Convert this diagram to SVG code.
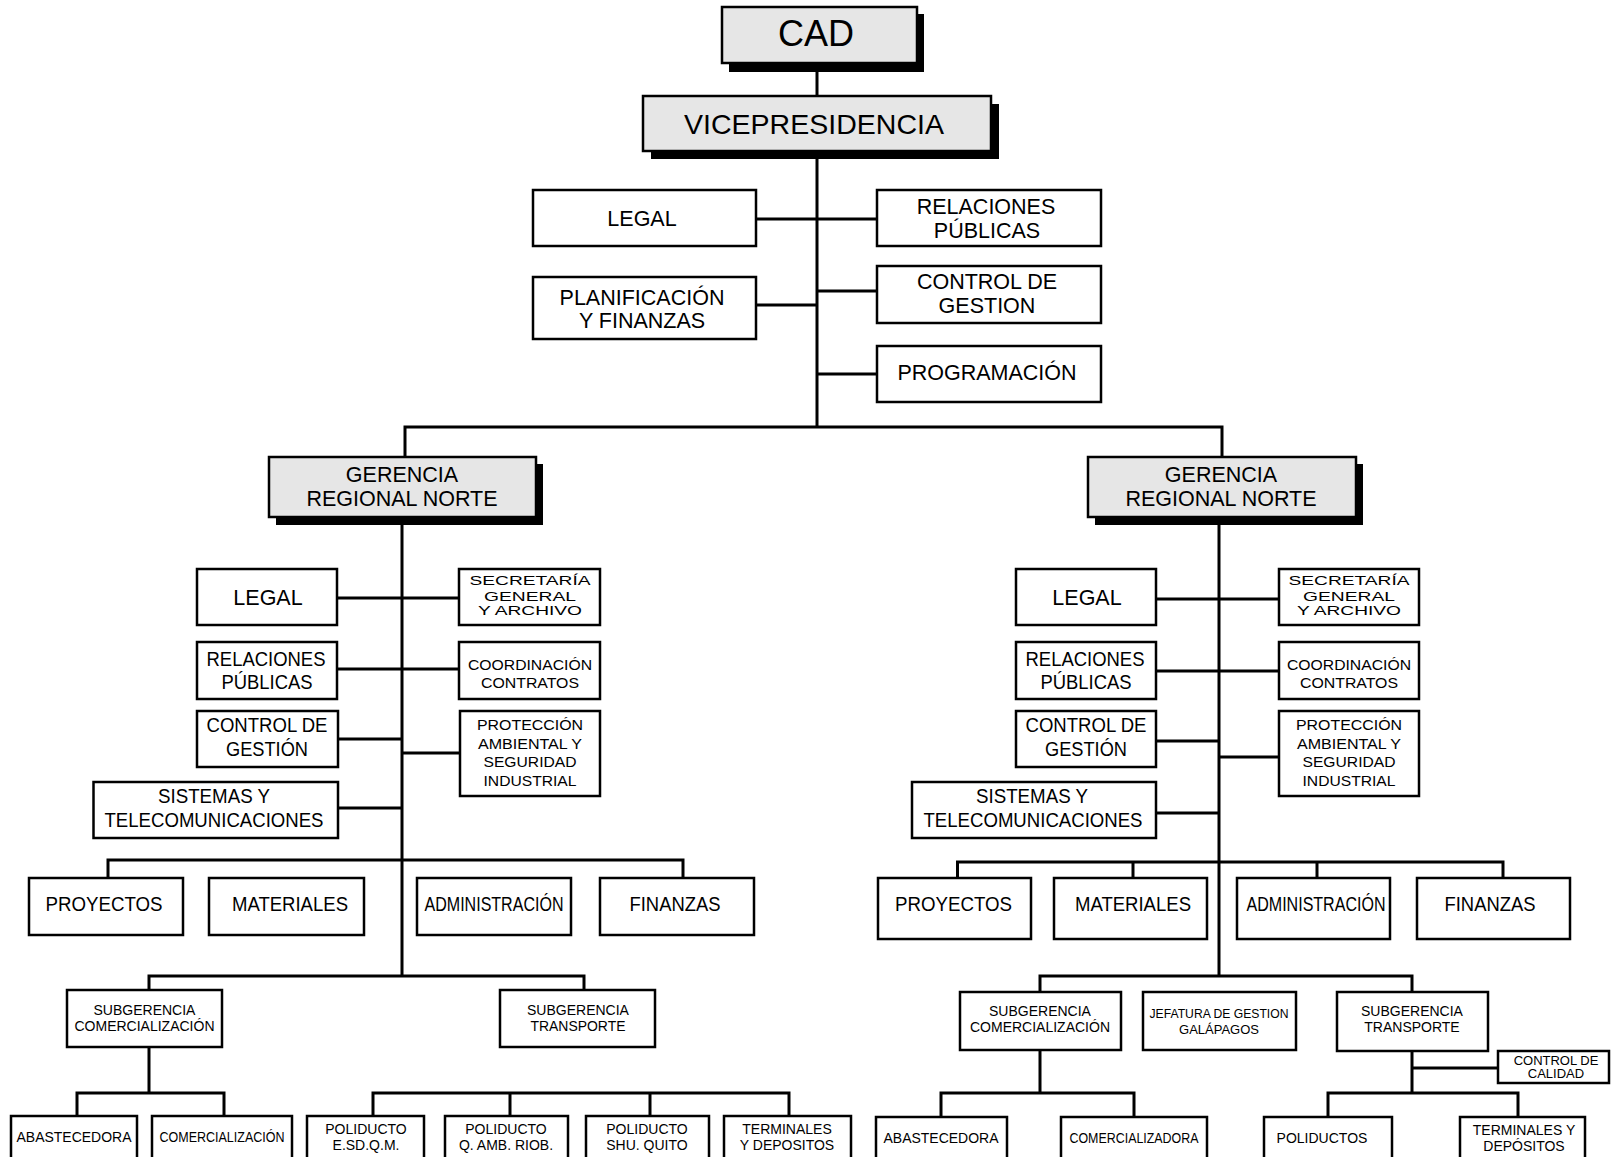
<svg xmlns="http://www.w3.org/2000/svg" width="1611" height="1157" viewBox="0 0 1611 1157">
<style>
.box{fill:#fff;stroke:#000;stroke-width:2.5}
.gbox{fill:#e6e6e6;stroke:#000;stroke-width:2.5}
.sh{fill:#000}
.ln{stroke:#000;stroke-width:3;fill:none}
text{font-family:"Liberation Sans",Arial,Helvetica,sans-serif;text-anchor:middle;fill:#000}
.f36{font-size:36px}
.f28{font-size:28px}
.f21{font-size:21.5px}
.f20{font-size:20px}
.f16{font-size:15.5px}
.f14{font-size:14px}
.f13{font-size:13px}
</style>
<rect width="1611" height="1157" fill="#fff"/>
<g id="connectors" class="ln">
<path d="M817,63V96M817,151V427M756,219H877M756,305H817M817,291H877M817,374H877M405,457V427H1222V457"/>
<path d="M402,517V976M337,598H459M337,669H459M338,739H402M402,753H460M338,808H402M108,878V860H683V878M149,990V976H584V990M149,1047V1093M77,1116V1093H224V1116M373,1116V1093H789V1116M510,1093V1116M650,1093V1116"/>
<path d="M1219,517V976M1156,599H1279M1156,671H1279M1156,741H1219M1219,757H1279M1156,813H1219M957.5,878V862H1503V878M1133,862V878M1317,862V878M1040,992V976H1412V992M1040,1050V1093M941,1117V1093H1134V1117M1412,1051V1093M1412,1068H1498M1328,1117V1093H1518V1117"/>
</g>
<g id="cad"><rect class="sh" x="729" y="14" width="195" height="58"/><rect class="gbox" x="722" y="7" width="195" height="56"/><text class="f36" x="816" y="46">CAD</text></g>
<g id="vicepresidencia"><rect class="sh" x="651" y="104" width="348" height="55"/><rect class="gbox" x="643" y="96" width="348" height="55"/><text class="f28" x="814" y="134" textLength="260" lengthAdjust="spacingAndGlyphs">VICEPRESIDENCIA</text></g>
<g id="legal"><rect class="box" x="533" y="190" width="223" height="56"/><text class="f21" x="642" y="225.5">LEGAL</text></g>
<g id="relaciones"><rect class="box" x="877" y="190" width="224" height="56"/><text class="f21" x="986" y="214">RELACIONES</text><text class="f21" x="987" y="237.5">PÚBLICAS</text></g>
<g id="planificacion"><rect class="box" x="533" y="277" width="223" height="62"/><text class="f21" x="642" y="304.5">PLANIFICACIÓN</text><text class="f21" x="642" y="328">Y FINANZAS</text></g>
<g id="control"><rect class="box" x="877" y="266" width="224" height="57"/><text class="f21" x="987" y="289">CONTROL DE</text><text class="f21" x="987" y="312.5">GESTION</text></g>
<g id="programacion"><rect class="box" x="877" y="346" width="224" height="56"/><text class="f21" x="987" y="379.5">PROGRAMACIÓN</text></g>

<g id="gerencia-1"><rect class="sh" x="276" y="464" width="267" height="61"/><rect class="gbox" x="269" y="457" width="267" height="60"/><text class="f21" x="402" y="482">GERENCIA</text><text class="f21" x="402" y="506">REGIONAL NORTE</text></g>
<g id="l-legal"><rect class="box" x="197" y="569" width="140" height="56"/><text class="f21" x="268" y="605">LEGAL</text></g>
<g id="l-secretaria"><rect class="box" x="459" y="569" width="141" height="56"/><text class="f13" x="530" y="585" textLength="121" lengthAdjust="spacingAndGlyphs">SECRETARÍA</text><text class="f13" x="530" y="600.5" textLength="92" lengthAdjust="spacingAndGlyphs">GENERAL</text><text class="f13" x="530" y="615" textLength="104" lengthAdjust="spacingAndGlyphs">Y ARCHIVO</text></g>
<g id="l-relaciones"><rect class="box" x="197" y="642" width="140" height="57"/><text class="f20" x="266" y="665.5" textLength="119" lengthAdjust="spacingAndGlyphs">RELACIONES</text><text class="f20" x="267" y="689" textLength="91" lengthAdjust="spacingAndGlyphs">PÚBLICAS</text></g>
<g id="l-coordinacion"><rect class="box" x="459" y="642" width="141" height="57"/><text class="f16" x="530" y="669.5" textLength="124" lengthAdjust="spacingAndGlyphs">COORDINACIÓN</text><text class="f16" x="530" y="688" textLength="98" lengthAdjust="spacingAndGlyphs">CONTRATOS</text></g>
<g id="l-control"><rect class="box" x="197" y="711" width="141" height="56"/><text class="f20" x="267" y="732" textLength="121" lengthAdjust="spacingAndGlyphs">CONTROL DE</text><text class="f20" x="267" y="756" textLength="82" lengthAdjust="spacingAndGlyphs">GESTIÓN</text></g>
<g id="l-proteccion"><rect class="box" x="460" y="711" width="140" height="85"/><text class="f16" x="530" y="730" textLength="106" lengthAdjust="spacingAndGlyphs">PROTECCIÓN</text><text class="f16" x="530" y="748.5" textLength="104" lengthAdjust="spacingAndGlyphs">AMBIENTAL Y</text><text class="f16" x="530" y="767" textLength="93" lengthAdjust="spacingAndGlyphs">SEGURIDAD</text><text class="f16" x="530" y="785.5" textLength="93" lengthAdjust="spacingAndGlyphs">INDUSTRIAL</text></g>
<g id="l-sistemas"><rect class="box" x="93.5" y="782" width="244.5" height="56"/><text class="f20" x="214" y="803" textLength="112" lengthAdjust="spacingAndGlyphs">SISTEMAS Y</text><text class="f20" x="214" y="827" textLength="219" lengthAdjust="spacingAndGlyphs">TELECOMUNICACIONES</text></g>
<g id="l-proyectos"><rect class="box" x="29" y="878" width="154" height="57"/><text class="f20" x="104" y="911" textLength="117" lengthAdjust="spacingAndGlyphs">PROYECTOS</text></g>
<g id="l-materiales"><rect class="box" x="209" y="878" width="155" height="57"/><text class="f20" x="290" y="911" textLength="116" lengthAdjust="spacingAndGlyphs">MATERIALES</text></g>
<g id="l-administracion"><rect class="box" x="417" y="878" width="154" height="57"/><text class="f20" x="494" y="911" textLength="139" lengthAdjust="spacingAndGlyphs">ADMINISTRACIÓN</text></g>
<g id="l-finanzas"><rect class="box" x="600" y="878" width="154" height="57"/><text class="f20" x="675" y="911" textLength="91" lengthAdjust="spacingAndGlyphs">FINANZAS</text></g>
<g id="l-subg-comercializacion"><rect class="box" x="67" y="990" width="155" height="57"/><text class="f14" x="144.5" y="1015">SUBGERENCIA</text><text class="f14" x="144.5" y="1031" textLength="140" lengthAdjust="spacingAndGlyphs">COMERCIALIZACIÓN</text></g>
<g id="l-subg-transporte"><rect class="box" x="500" y="990" width="155" height="57"/><text class="f14" x="578" y="1015">SUBGERENCIA</text><text class="f14" x="578" y="1031" textLength="95" lengthAdjust="spacingAndGlyphs">TRANSPORTE</text></g>
<g id="l-abastecedora"><rect class="box" x="11" y="1116" width="126" height="43"/><text class="f14" x="74" y="1142" textLength="115" lengthAdjust="spacingAndGlyphs">ABASTECEDORA</text></g>
<g id="l-comercializacion"><rect class="box" x="152" y="1116" width="140" height="43"/><text class="f14" x="222" y="1142" textLength="125" lengthAdjust="spacingAndGlyphs">COMERCIALIZACIÓN</text></g>
<g id="l-poliducto-1"><rect class="box" x="307" y="1116" width="117" height="43"/><text class="f14" x="366" y="1134">POLIDUCTO</text><text class="f14" x="366" y="1149.5">E.SD.Q.M.</text></g>
<g id="l-poliducto-2"><rect class="box" x="445" y="1116" width="123" height="43"/><text class="f14" x="506" y="1134">POLIDUCTO</text><text class="f14" x="506" y="1149.5">Q. AMB. RIOB.</text></g>
<g id="l-poliducto-3"><rect class="box" x="586" y="1116" width="123" height="43"/><text class="f14" x="647" y="1134">POLIDUCTO</text><text class="f14" x="647" y="1149.5">SHU. QUITO</text></g>
<g id="l-terminales"><rect class="box" x="724" y="1116" width="127" height="43"/><text class="f14" x="787" y="1134">TERMINALES</text><text class="f14" x="787" y="1149.5">Y DEPOSITOS</text></g>

<g id="gerencia-2"><rect class="sh" x="1095" y="464" width="268" height="61"/><rect class="gbox" x="1088" y="457" width="268" height="60"/><text class="f21" x="1221" y="482">GERENCIA</text><text class="f21" x="1221" y="506">REGIONAL NORTE</text></g>
<g id="r-legal"><rect class="box" x="1016" y="569" width="140" height="56"/><text class="f21" x="1087" y="605">LEGAL</text></g>
<g id="r-secretaria"><rect class="box" x="1279" y="569" width="140" height="56"/><text class="f13" x="1349" y="585" textLength="121" lengthAdjust="spacingAndGlyphs">SECRETARÍA</text><text class="f13" x="1349" y="600.5" textLength="92" lengthAdjust="spacingAndGlyphs">GENERAL</text><text class="f13" x="1349" y="615" textLength="104" lengthAdjust="spacingAndGlyphs">Y ARCHIVO</text></g>
<g id="r-relaciones"><rect class="box" x="1016" y="642" width="140" height="57"/><text class="f20" x="1085" y="665.5" textLength="119" lengthAdjust="spacingAndGlyphs">RELACIONES</text><text class="f20" x="1086" y="689" textLength="91" lengthAdjust="spacingAndGlyphs">PÚBLICAS</text></g>
<g id="r-coordinacion"><rect class="box" x="1279" y="642" width="140" height="57"/><text class="f16" x="1349" y="669.5" textLength="124" lengthAdjust="spacingAndGlyphs">COORDINACIÓN</text><text class="f16" x="1349" y="688" textLength="98" lengthAdjust="spacingAndGlyphs">CONTRATOS</text></g>
<g id="r-control"><rect class="box" x="1016" y="711" width="140" height="56"/><text class="f20" x="1086" y="732" textLength="121" lengthAdjust="spacingAndGlyphs">CONTROL DE</text><text class="f20" x="1086" y="756" textLength="82" lengthAdjust="spacingAndGlyphs">GESTIÓN</text></g>
<g id="r-proteccion"><rect class="box" x="1279" y="711" width="140" height="85"/><text class="f16" x="1349" y="730" textLength="106" lengthAdjust="spacingAndGlyphs">PROTECCIÓN</text><text class="f16" x="1349" y="748.5" textLength="104" lengthAdjust="spacingAndGlyphs">AMBIENTAL Y</text><text class="f16" x="1349" y="767" textLength="93" lengthAdjust="spacingAndGlyphs">SEGURIDAD</text><text class="f16" x="1349" y="785.5" textLength="93" lengthAdjust="spacingAndGlyphs">INDUSTRIAL</text></g>
<g id="r-sistemas"><rect class="box" x="912" y="782" width="244" height="56"/><text class="f20" x="1032" y="803" textLength="112" lengthAdjust="spacingAndGlyphs">SISTEMAS Y</text><text class="f20" x="1033" y="827" textLength="219" lengthAdjust="spacingAndGlyphs">TELECOMUNICACIONES</text></g>
<g id="r-proyectos"><rect class="box" x="878" y="878" width="153" height="61"/><text class="f20" x="953.5" y="911" textLength="117" lengthAdjust="spacingAndGlyphs">PROYECTOS</text></g>
<g id="r-materiales"><rect class="box" x="1054" y="878" width="153" height="61"/><text class="f20" x="1133" y="911" textLength="116" lengthAdjust="spacingAndGlyphs">MATERIALES</text></g>
<g id="r-administracion"><rect class="box" x="1237" y="878" width="153" height="61"/><text class="f20" x="1316" y="911" textLength="139" lengthAdjust="spacingAndGlyphs">ADMINISTRACIÓN</text></g>
<g id="r-finanzas"><rect class="box" x="1417" y="878" width="153" height="61"/><text class="f20" x="1490" y="911" textLength="91" lengthAdjust="spacingAndGlyphs">FINANZAS</text></g>
<g id="r-subg-comercializacion"><rect class="box" x="960" y="992" width="161" height="58"/><text class="f14" x="1040" y="1016">SUBGERENCIA</text><text class="f14" x="1040" y="1031.5" textLength="140" lengthAdjust="spacingAndGlyphs">COMERCIALIZACIÓN</text></g>
<g id="r-jefatura"><rect class="box" x="1143" y="992" width="153" height="58"/><text class="f13" x="1219" y="1018" textLength="139" lengthAdjust="spacingAndGlyphs">JEFATURA DE GESTION</text><text class="f13" x="1219" y="1033.5">GALÁPAGOS</text></g>
<g id="r-subg-transporte"><rect class="box" x="1337" y="992" width="151" height="59"/><text class="f14" x="1412" y="1016">SUBGERENCIA</text><text class="f14" x="1412" y="1031.5">TRANSPORTE</text></g>
<g id="r-control-calidad"><rect class="box" x="1498" y="1051" width="111" height="32"/><text class="f13" x="1556" y="1065">CONTROL DE</text><text class="f13" x="1556" y="1078">CALIDAD</text></g>
<g id="r-abastecedora"><rect class="box" x="876" y="1117" width="131" height="42"/><text class="f14" x="941" y="1143" textLength="115" lengthAdjust="spacingAndGlyphs">ABASTECEDORA</text></g>
<g id="r-comercializadora"><rect class="box" x="1061" y="1117" width="146" height="42"/><text class="f14" x="1134" y="1143" textLength="129" lengthAdjust="spacingAndGlyphs">COMERCIALIZADORA</text></g>
<g id="r-poliductos"><rect class="box" x="1264" y="1117" width="128" height="42"/><text class="f14" x="1322" y="1143">POLIDUCTOS</text></g>
<g id="r-terminales"><rect class="box" x="1460" y="1117" width="125" height="42"/><text class="f14" x="1524" y="1135">TERMINALES Y</text><text class="f14" x="1524" y="1150.5">DEPÓSITOS</text></g>
</svg>
